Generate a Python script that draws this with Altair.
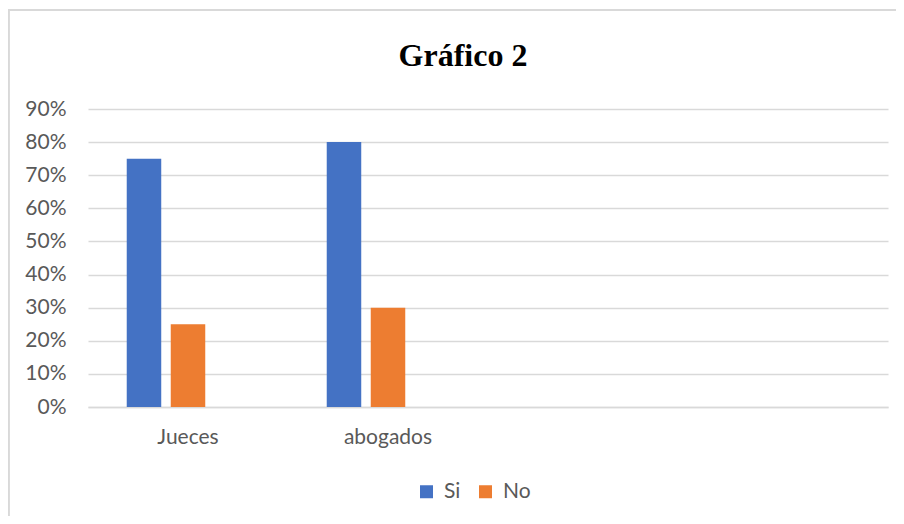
import altair as alt
import pandas as pd

categories = ["Jueces", "abogados", "c3", "c4"]
series = ["Si", "No"]
si_values = [0.75, 0.80]
no_values = [0.25, 0.30]
colors = ["#4472C4", "#ED7D31", "#A5A5A5"]

rows = []
for cat, s, n in zip(categories[:2], si_values, no_values):
    rows.append({"cat": cat, "serie": "Si", "val": s})
    rows.append({"cat": cat, "serie": "No", "val": n})
df = pd.DataFrame(rows)

font = "Lato"
grey = "#595959"

bars = alt.Chart(df).mark_bar().encode(
    x=alt.X("cat:N", sort=categories,
            scale=alt.Scale(domain=categories, paddingInner=0, paddingOuter=0),
            axis=alt.Axis(title=None, labelAngle=0, ticks=False, domain=True,
                          domainColor="#D9D9D9", domainWidth=1.5, grid=False,
                          labelFont=font, labelFontSize=21, labelColor=grey,
                          labelPadding=19,
                          labelExpr="indexof(['c3','c4'], datum.value) >= 0 ? '' : datum.label")),
    xOffset=alt.XOffset("serie:N", sort=series + ["_"],
                        scale=alt.Scale(domain=series + ["_"], paddingInner=0.216, paddingOuter=0.88)),
    y=alt.Y("val:Q",
            scale=alt.Scale(domain=[0, 0.9], nice=False),
            axis=alt.Axis(title=None, format=".0%", values=[i / 10 for i in range(10)],
                          ticks=False, domain=False, gridColor="#D9D9D9", gridWidth=1.5,
                          labelFont=font, labelFontSize=21, labelColor=grey,
                          labelPadding=22)),
    color=alt.Color("serie:N",
                    scale=alt.Scale(domain=series + ["_"], range=colors),
                    legend=alt.Legend(title=None, values=series, orient="none",
                                      direction="horizontal", legendX=328, legendY=372,
                                      symbolType="square", symbolSize=169,
                                      symbolStrokeWidth=0, labelFont=font,
                                      labelFontSize=21, labelColor=grey,
                                      labelOffset=7, columnPadding=14)),
)

frame_top = alt.Chart(df).mark_rule(color="#D9D9D9", strokeWidth=2).encode(
    x=alt.value(-80), x2=alt.value(900), y=alt.value(-99))
frame_left = alt.Chart(df).mark_rule(color="#D9D9D9", strokeWidth=2).encode(
    x=alt.value(-79.5), y=alt.value(-99), y2=alt.value(420))

chart = alt.layer(frame_top, frame_left, bars).properties(
    width=800, height=298,
    title=alt.TitleParams("Gráfico 2", font="Liberation Serif", fontSize=32,
                          fontWeight="bold", color="#000000", anchor="middle",
                          baseline="alphabetic", dx=-25, dy=89, offset=0),
    autosize=alt.AutoSizeParams(type="none"),
    padding={"left": 80, "top": 101, "right": 8, "bottom": 109},
).configure_view(stroke=None)

chart.save("out.html", embed_options={"renderer": "svg", "actions": False})
